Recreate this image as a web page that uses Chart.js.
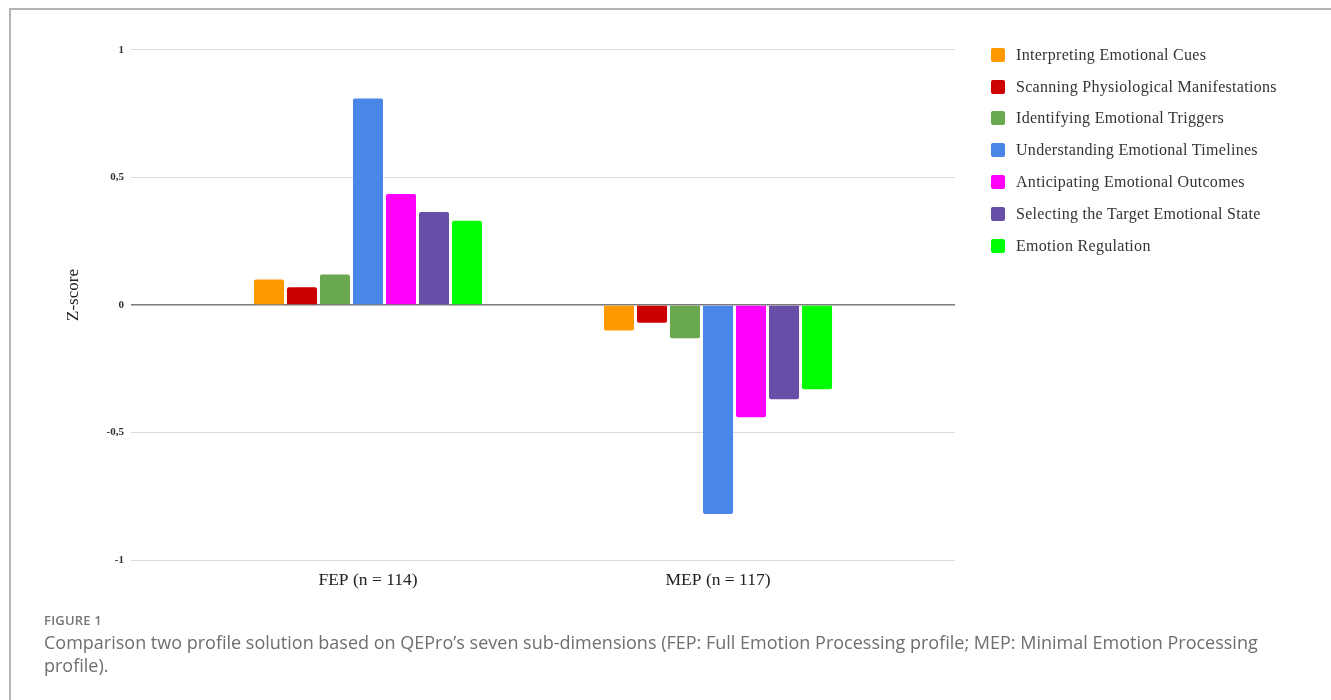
<!DOCTYPE html>
<html>
<head>
<meta charset="utf-8">
<script src="https://cdn.jsdelivr.net/npm/chart.js@4.4.0/dist/chart.umd.min.js"></script>
<style>
  html,body{margin:0;padding:0;background:#fff;}
  body{width:1331px;height:700px;position:relative;overflow:hidden;}
  #frame{position:absolute;left:9px;top:8px;width:1340px;height:720px;border:2px solid #b3b3b3;box-sizing:border-box;}
  #wrap{position:absolute;left:0;top:0;width:1331px;height:613px;}
  #legend{position:absolute;left:991px;top:39px;font-family:"Liberation Serif","Times New Roman",serif;font-size:16px;letter-spacing:0.3px;color:#333;}
  #legend .it{height:31.8px;display:flex;align-items:center;white-space:nowrap;}
  #legend .sw{width:14px;height:14px;border-radius:2px;margin-right:11px;flex:none;}
  #cap{position:absolute;left:44px;top:609px;width:1236px;font-family:"Open Sans",sans-serif;color:#6e6e6e;}
  #cap .fig{font-size:13px;font-weight:600;color:#777;line-height:22px;letter-spacing:0.2px;}
  #cap .txt{font-size:18px;line-height:23px;}
</style>
</head>
<body>
<div id="frame"></div>
<div id="wrap"><canvas id="c" width="1331" height="613"></canvas></div>
<div id="legend"></div>
<div id="cap">
  <div class="fig">FIGURE 1</div>
  <div class="txt">Comparison two profile solution based on QEPro’s seven sub-dimensions (FEP: Full Emotion Processing profile; MEP: Minimal Emotion Processing profile).</div>
</div>
<script>
/* ===== 資料 ===== */
const GROUPS = ['FEP (n = 114)', 'MEP (n = 117)'];
const DIMS = ['Interpreting Emotional Cues','Scanning Physiological Manifestations','Identifying Emotional Triggers',
  'Understanding Emotional Timelines','Anticipating Emotional Outcomes','Selecting the Target Emotional State','Emotion Regulation'];
const COLORS = ['#ff9900','#cc0000','#6aa84f','#4a86e8','#ff00ff','#674ea7','#00ff00'];
const FEP = [0.10, 0.07, 0.12, 0.81, 0.435, 0.365, 0.33];
const MEP = [-0.10, -0.07, -0.13, -0.82, -0.44, -0.37, -0.33];
const Y_TICKS = [-1, -0.5, 0, 0.5, 1];

const SERIF = '"Liberation Serif","Times New Roman",serif';
const fmtTick = v => String(v).replace('.', ',');

const datasets = DIMS.map((name,i)=>({
  label: name,
  data: [{x:0, y:FEP[i]}, {x:1, y:MEP[i]}],
  backgroundColor: COLORS[i],
  borderWidth: 0,
  borderRadius: 2,
  borderSkipped: 'start',
  categoryPercentage: 0.66,
  barPercentage: 0.91
}));

const chart = new Chart(document.getElementById('c'), {
  type: 'bar',
  data: { datasets },
  options: {
    responsive: false, animation: false,
    layout: { padding: { left: 63, right: 376, top: 30, bottom: 12 } },
    plugins: { tooltip: { enabled: false }, legend: { display: false } },
    scales: {
      x: {
        type: 'linear', offset: false, min: -0.677, max: 1.677,
        afterBuildTicks: s => { s.ticks = GROUPS.map((_,i)=>({value:i})); },
        grid: { display: false, drawTicks: false }, border: { display: false },
        ticks: { callback: v => GROUPS[v], color: '#222', padding: 10,
                 font: { family: SERIF, size: 17.5 } }
      },
      y: {
        min: -1, max: 1.0784,
        afterBuildTicks: s => { s.ticks = Y_TICKS.map(v=>({value:v})); },
        afterFit: s => { s.width = 68; },
        border: { display: false },
        grid: { drawTicks: false, color: c => c.tick && c.tick.value === 0 ? '#7a7a7a' : '#dadada',
                lineWidth: c => c.tick && c.tick.value === 0 ? 1.5 : 1 },
        ticks: { callback: v => fmtTick(v), color: '#333', padding: 7,
                 font: { family: SERIF, size: 11, weight: 'bold' } },
        title: { display: true, text: 'Z-score', color: '#222', padding: 0,
                 font: { family: SERIF, size: 17 } }
      }
    }
  }
});

/* 圖例（HTML） */
const lg = document.getElementById('legend');
chart.data.datasets.forEach(d=>{
  const it = document.createElement('div'); it.className = 'it';
  it.innerHTML = `<span class="sw" style="background:${d.backgroundColor}"></span>${d.label}`;
  lg.appendChild(it);
});
</script>
</body>
</html>
